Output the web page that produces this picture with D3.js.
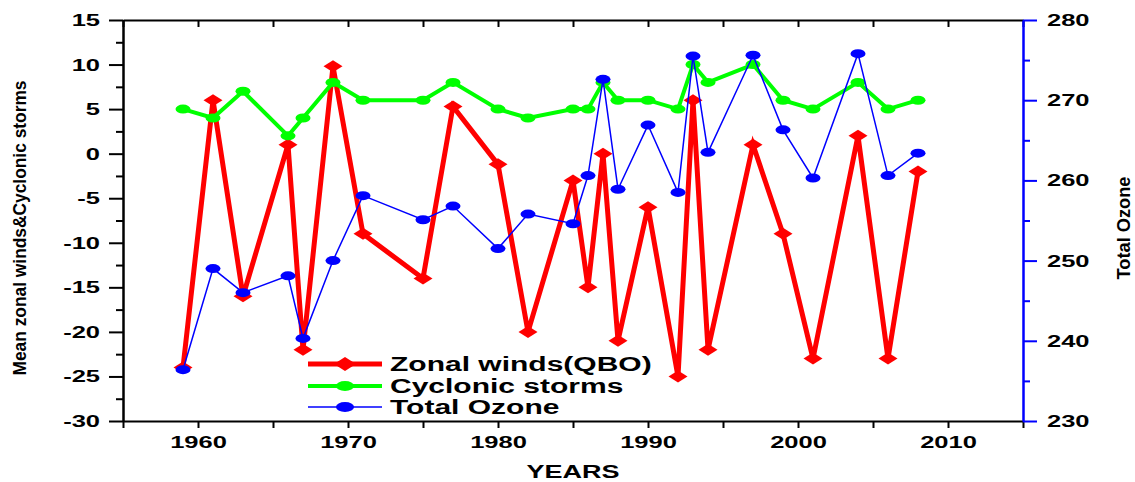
<!DOCTYPE html>
<meta charset="utf-8">
<style>
body { margin: 0; background: #fff; }
text { font-family: "Liberation Sans", Arial, sans-serif; font-weight: bold; fill: #000; }
.line { fill: none; }
</style>
<body>
<script src="https://d3js.org/d3.v7.min.js"></script>
<script>

// data
var years    = [1959, 1961, 1963, 1966, 1967, 1969, 1971, 1975, 1977, 1980, 1982, 1985, 1986,
                1987, 1988, 1990, 1992, 1993, 1994, 1997, 1999, 2001, 2004, 2006, 2008];
var zonal    = [-24, 6, -16, 1, -22, 9.8, -9, -14, 5.3, -1.2, -20, -3, -15,
                0, -21, -6, -25, 6, -22, 1, -9, -23, 2, -23, -2];
var cyclonic = [5, 4, 7, 2, 4, 8, 6, 6, 8, 5, 4, 5, 5,
                8, 6, 6, 5, 10, 8, 10, 6, 5, 8, 5, 6];
var ozone    = [236.4, 249, 246, 248.1, 240.3, 250, 258.1, 255.1, 256.8, 251.5, 255.8, 254.6, 260.6,
                272.6, 258.9, 266.9, 258.5, 275.5, 263.5, 275.6, 266.3, 260.3, 275.8, 260.6, 263.4];
var seriesNames = ["Zonal winds(QBO)", "Cyclonic storms", "Total Ozone"];
var xTicks = [1960, 1970, 1980, 1990, 2000, 2010];

var W = 1135, H = 482;
var margin = {left: 123, right: 1023, top: 20, bottom: 421};
var stretch = 1.5;   // the picture's text is drawn wide

var svg = d3.select("body").append("svg")
    .attr("width", W)
    .attr("height", H);

var x = d3.scaleLinear().domain([1955, 2015]).range([margin.left, margin.right]);
var y = d3.scaleLinear().domain([-30, 15]).range([margin.bottom, margin.top]);
var y2 = d3.scaleLinear().domain([230, 280]).range([margin.bottom, margin.top]);

function widen(sel) {
  sel.each(function() {
    var t = d3.select(this);
    t.attr("textLength", this.getComputedTextLength() * stretch)
     .attr("lengthAdjust", "spacingAndGlyphs");
  });
}

// top frame line with small inward ticks
svg.append("g")
    .attr("transform", "translate(0," + margin.top + ")")
    .call(d3.axisBottom(x).tickValues(d3.range(1955, 2016, 5)).tickSize(7).tickSizeOuter(0).tickFormat(""))
    .call(g => g.selectAll("path,line").attr("stroke", "#000").attr("stroke-width", 2));

// bottom axis
var gx = svg.append("g")
    .attr("transform", "translate(0," + margin.bottom + ")")
    .call(d3.axisBottom(x).tickValues(d3.range(1955, 2016, 5)).tickSize(7).tickSizeOuter(0)
      .tickFormat(d => xTicks.indexOf(d) >= 0 ? d : "").tickPadding(8));
gx.selectAll("path,line").attr("stroke", "#000").attr("stroke-width", 2);
gx.selectAll("text").attr("font-size", 17).attr("fill", "#000").call(widen);

// left axis: minor and major
svg.append("g")
    .attr("transform", "translate(" + margin.left + ",0)")
    .call(d3.axisLeft(y).tickValues(d3.range(-27.5, 15, 5)).tickSize(7).tickSizeOuter(0).tickFormat(""))
    .call(g => g.selectAll("path,line").attr("stroke", "#000").attr("stroke-width", 2));
var gy = svg.append("g")
    .attr("transform", "translate(" + margin.left + ",0)")
    .call(d3.axisLeft(y).tickValues(d3.range(-30, 16, 5)).tickSize(14).tickSizeOuter(0).tickPadding(9));
gy.selectAll("path,line").attr("stroke", "#000").attr("stroke-width", 2);
gy.selectAll("text").attr("font-size", 17).attr("fill", "#000").text(d => d < 0 ? "-" + Math.abs(d) : d).call(widen);

// right axis (blue)
svg.append("g")
    .attr("transform", "translate(" + margin.right + ",0)")
    .call(d3.axisRight(y2).tickValues(d3.range(235, 280, 10)).tickSize(7).tickSizeOuter(0).tickFormat(""))
    .call(g => g.selectAll("path,line").attr("stroke", "#0000ff").attr("stroke-width", 2));
var gy2 = svg.append("g")
    .attr("transform", "translate(" + margin.right + ",0)")
    .call(d3.axisRight(y2).tickValues(d3.range(230, 281, 10)).tickSize(14).tickSizeOuter(0).tickPadding(10));
gy2.selectAll("path,line").attr("stroke", "#0000ff").attr("stroke-width", 2);
gy2.selectAll("text").attr("font-size", 17).attr("fill", "#000").call(widen);

// axis titles
svg.append("text")
    .attr("x", (margin.left + margin.right) / 2)
    .attr("y", 478)
    .attr("text-anchor", "middle")
    .attr("font-size", 18)
    .text("YEARS")
    .call(widen);

svg.append("text")
    .attr("transform", "translate(26,228) rotate(-90)")
    .attr("text-anchor", "middle")
    .attr("font-size", 19)
    .attr("textLength", 295)
    .attr("lengthAdjust", "spacingAndGlyphs")
    .text("Mean zonal winds&Cyclonic storms");

svg.append("text")
    .attr("transform", "translate(1130,228) rotate(-90)")
    .attr("text-anchor", "middle")
    .attr("font-size", 18)
    .attr("textLength", 103)
    .attr("lengthAdjust", "spacingAndGlyphs")
    .text("Total Ozone");

// series
var zData = years.map((d, i) => [d, zonal[i]]);
var cData = years.map((d, i) => [d, cyclonic[i]]);
var oData = years.map((d, i) => [d, ozone[i]]);

var line1 = d3.line().x(d => x(d[0])).y(d => y(d[1]));
var line2 = d3.line().x(d => x(d[0])).y(d => y2(d[1]));

function diamond(w, h) {
  return "M0," + (-h) + "L" + w + ",0L0," + h + "L" + (-w) + ",0Z";
}

// zonal winds (red)
svg.append("path").datum(zData).attr("class", "line")
    .attr("stroke", "#ff0000").attr("stroke-width", 5).attr("d", line1);
svg.selectAll(".zm").data(zData).enter().append("path")
    .attr("class", "zm")
    .attr("transform", d => "translate(" + x(d[0]) + "," + y(d[1]) + ")")
    .attr("d", diamond(9.5, 6))
    .attr("fill", "#ff0000");

// cyclonic storms (green)
svg.append("path").datum(cData).attr("class", "line")
    .attr("stroke", "#00ff00").attr("stroke-width", 4).attr("d", line1);
svg.selectAll(".cm").data(cData).enter().append("ellipse")
    .attr("class", "cm")
    .attr("cx", d => x(d[0])).attr("cy", d => y(d[1]))
    .attr("rx", 7.5).attr("ry", 4.5)
    .attr("fill", "#00ff00");

// total ozone (blue)
svg.append("path").datum(oData).attr("class", "line")
    .attr("stroke", "#0000ff").attr("stroke-width", 1.5).attr("d", line2);
svg.selectAll(".om").data(oData).enter().append("ellipse")
    .attr("class", "om")
    .attr("cx", d => x(d[0])).attr("cy", d => y2(d[1]))
    .attr("rx", 7.5).attr("ry", 4.5)
    .attr("fill", "#0000ff");

// legend
var legendY = [364, 386, 407];
var legendColor = ["#ff0000", "#00ff00", "#0000ff"];
var legendWidth = [5, 4, 1.5];
var lg = svg.append("g");
seriesNames.forEach(function(name, i) {
  lg.append("line")
      .attr("x1", 308).attr("x2", 382)
      .attr("y1", legendY[i]).attr("y2", legendY[i])
      .attr("stroke", legendColor[i]).attr("stroke-width", legendWidth[i]);
  if (i == 0) {
    lg.append("path")
        .attr("transform", "translate(345," + legendY[i] + ")")
        .attr("d", diamond(11, 7))
        .attr("fill", legendColor[i]);
  } else {
    lg.append("ellipse")
        .attr("cx", 345).attr("cy", legendY[i])
        .attr("rx", 9).attr("ry", 5)
        .attr("fill", legendColor[i]);
  }
  lg.append("text")
      .attr("x", 390).attr("y", legendY[i] + 7)
      .attr("font-size", 20)
      .text(name)
      .call(widen);
});

</script>
</body>
